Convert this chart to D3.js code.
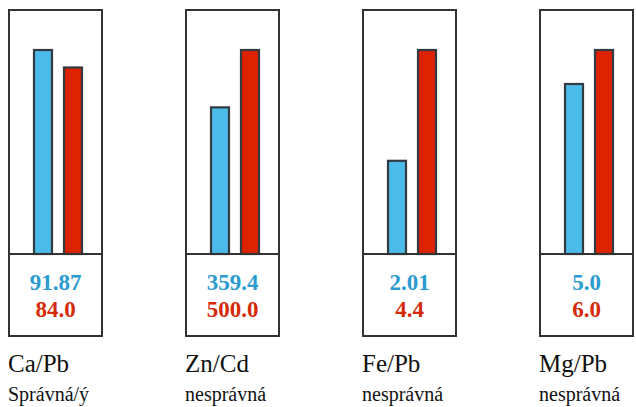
<!DOCTYPE html>
<html><head><meta charset="utf-8">
<script src="https://cdn.jsdelivr.net/npm/d3@7"></script>
<style>html,body{margin:0;padding:0;background:#fff;}svg{display:block;}</style>
</head><body>
<script>
const categories = ["Ca/Pb", "Zn/Cd", "Fe/Pb", "Mg/Pb"];
const verdicts = ["Správná/ý", "nesprávná", "nesprávná", "nesprávná"];
const blueValues = [91.87, 359.4, 2.01, 5.0];
const redValues = [84.0, 500.0, 4.4, 6.0];
const blueLabels = ["91.87", "359.4", "2.01", "5.0"];
const redLabels = ["84.0", "500.0", "4.4", "6.0"];

const W = 636, H = 407;
const svg = d3.select("body").append("svg").attr("width", W).attr("height", H);

const panelX = d3.scalePoint().domain(categories).range([9, 540]);
const boxW = 93, boxTop = 10, baseY = 254, boxBottom = 336;
const series = ["blue", "red"];
const bx = d3.scaleBand().domain(series).range([25, 73]).paddingInner(0.4).paddingOuter(0);
const fills = {blue: "#4bbbea", red: "#dd2200"};
const textCol = {blue: "#2b9bd0", red: "#d42a0a"};
const serif = '"Liberation Serif"';

categories.forEach((c, i) => {
  const g = svg.append("g").attr("transform", `translate(${panelX(c)},0)`);
  const vals = {blue: blueValues[i], red: redValues[i]};
  const y = d3.scaleLinear().domain([0, Math.max(vals.blue, vals.red)]).range([baseY, 50]);
  g.append("rect").attr("x", 0).attr("y", boxTop).attr("width", boxW).attr("height", boxBottom - boxTop)
    .attr("fill", "none").attr("stroke", "#333").attr("stroke-width", 2);
  series.forEach(s => {
    g.append("rect").attr("x", bx(s)).attr("y", y(vals[s])).attr("width", bx.bandwidth())
      .attr("height", baseY - y(vals[s])).attr("fill", fills[s])
      .attr("stroke", "#333a42").attr("stroke-width", 2.2);
  });
  g.append("line").attr("x1", 0).attr("x2", boxW).attr("y1", baseY).attr("y2", baseY)
    .attr("stroke", "#333").attr("stroke-width", 2);
  g.append("text").attr("x", boxW / 2).attr("y", 290).attr("text-anchor", "middle")
    .style("font-family", serif).style("font-weight", "bold").style("font-size", "23px")
    .style("fill", textCol.blue).text(blueLabels[i]);
  g.append("text").attr("x", boxW / 2).attr("y", 317).attr("text-anchor", "middle")
    .style("font-family", serif).style("font-weight", "bold").style("font-size", "23px")
    .style("fill", textCol.red).text(redLabels[i]);
  g.append("text").attr("x", -1).attr("y", 372)
    .style("font-family", serif).style("font-size", "25px")
    .style("fill", "#111").text(c);
  g.append("text").attr("x", -1).attr("y", 401)
    .style("font-family", serif).style("font-size", "20px")
    .style("fill", "#111").text(verdicts[i]);
});
</script>
</body></html>
